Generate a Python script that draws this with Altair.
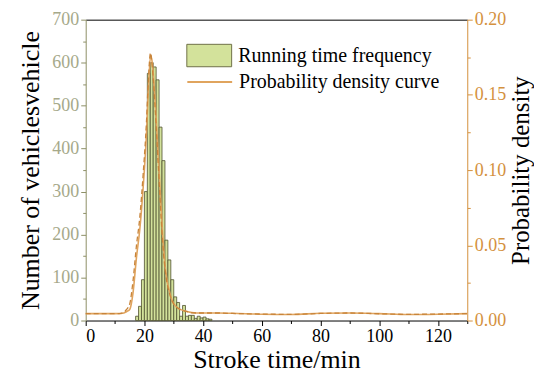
import altair as alt
import pandas as pd

# Histogram (running time frequency), bin width 1 min
bin_start = [17, 18, 19, 20, 21, 22, 23, 24, 25, 26, 27, 28, 29, 30, 31, 32, 33, 34, 35, 36, 37, 38, 39, 40, 41, 42]
counts = [10, 33, 95, 300, 575, 600, 590, 560, 450, 372, 187, 141, 95, 55, 42, 10, 35, 10, 12, 12, 5, 10, 6, 8, 4, 3]

# Probability density curve (solid)
dens_x = [0, 5, 10, 12, 13, 14, 15, 16.1, 17.3, 18.4, 19.6, 20.7, 21.3, 22.1, 22.7, 23.5, 24.3, 25.3, 26.2, 27.3, 28.7,
          30.9, 34.4, 37.8, 45, 50, 60, 70, 80, 90, 100, 110, 120, 130]
dens_y = [0.0046, 0.0046, 0.0046, 0.0047, 0.0050, 0.0060, 0.0073, 0.018, 0.042, 0.060, 0.089, 0.124, 0.151, 0.176, 0.171,
          0.151, 0.124, 0.089, 0.058, 0.032, 0.018, 0.009, 0.006, 0.005, 0.0050, 0.0048, 0.0042, 0.0040, 0.0048, 0.0050,
          0.0046, 0.0040, 0.0042, 0.0046]
# Dashed companion curve
dash_y = [0.0046, 0.0046, 0.0046, 0.0048, 0.0055, 0.0075, 0.011, 0.026, 0.050, 0.068, 0.098, 0.132, 0.158, 0.178, 0.168,
          0.146, 0.118, 0.082, 0.052, 0.030, 0.017, 0.009, 0.006, 0.005, 0.0050, 0.0047, 0.0043, 0.0041, 0.0047, 0.0050,
          0.0045, 0.0041, 0.0043, 0.0046]

bars_df = pd.DataFrame({"start": bin_start, "end": [b + 1 for b in bin_start], "count": counts,
                        "zero": [0] * len(bin_start), "series": "Running time frequency"})
line_df = pd.DataFrame({"t": dens_x, "d": dens_y, "series": "Probability density curve"})
dash_df = pd.DataFrame({"t": dens_x, "d": dash_y})

FONT = "Liberation Serif"
OLIVE_LBL = "#a6a98a"
OLIVE_AX = "#8e9066"
ORANGE = "#d4913e"

xscale = alt.Scale(domain=[0, 130], nice=False, zero=False)

bars = alt.Chart(bars_df).mark_rect(stroke="#4f5030", strokeWidth=0.8).encode(
    x=alt.X("start:Q", scale=xscale,
            axis=alt.Axis(orient="bottom", values=list(range(0, 131, 10)), title="Stroke time/min",
                          labelExpr="datum.value % 20 === 0 ? datum.label : ''",
                          tickSize={"condition": {"test": "datum.value % 20 === 0", "value": 5}, "value": 3},
                          grid=False, domainColor="black", tickColor="black", labelColor="black",
                          labelFontSize=18, titleFontSize=26, labelPadding=2, titlePadding=1,
                          labelFont=FONT, titleFont=FONT, titleFontWeight="normal", titleColor="black")),
    x2="end:Q",
    y=alt.Y("count:Q", scale=alt.Scale(domain=[0, 700], nice=False),
            axis=alt.Axis(orient="left", values=list(range(0, 701, 50)), title="Number of vehiclesvehicle",
                          labelExpr="datum.value % 100 === 0 ? datum.label : ''",
                          tickSize={"condition": {"test": "datum.value % 100 === 0", "value": 5}, "value": 3},
                          grid=False, domainColor=OLIVE_AX, tickColor=OLIVE_AX, labelColor=OLIVE_LBL,
                          labelFontSize=18, titleFontSize=26, labelPadding=2, titlePadding=8,
                          labelFont=FONT, titleFont=FONT, titleFontWeight="normal", titleColor="black")),
    y2="zero:Q",
    fill=alt.Fill("series:N", scale=alt.Scale(range=["#d3e29b"]),
                  legend=alt.Legend(title=None, orient="none", legendX=101, legendY=13,
                                    symbolType="M-1,-0.5H1V0.5H-1Z", symbolSize=2025,
                                    symbolStrokeColor="#6f7048", symbolStrokeWidth=1, symbolOpacity=1,
                                    labelFont=FONT, labelFontSize=20, labelColor="black", labelLimit=400,
                                    labelOffset=6, padding=0)),
)

line = alt.Chart(line_df).mark_line(strokeWidth=1.6, interpolate="monotone").encode(
    x=alt.X("t:Q", scale=xscale,
            axis=alt.Axis(orient="top", title=None, labels=False, ticks=False, grid=False, domainColor="black")),
    y=alt.Y("d:Q", scale=alt.Scale(domain=[0, 0.2], nice=False),
            axis=alt.Axis(orient="right", values=[i * 0.025 for i in range(9)], title="Probability density",
                          format=".2f",
                          labelExpr="round(datum.value * 1000) % 50 === 0 ? datum.label : ''",
                          tickSize={"condition": {"test": "round(datum.value * 1000) % 50 === 0", "value": 5},
                                    "value": 3},
                          grid=False, domainColor=ORANGE, tickColor=ORANGE, labelColor=ORANGE,
                          labelFontSize=18, titleFontSize=25, labelPadding=2, titlePadding=3,
                          titleAngle=270, titleBaseline="top",
                          labelFont=FONT, titleFont=FONT, titleFontWeight="normal", titleColor="black")),
    stroke=alt.Stroke("series:N", scale=alt.Scale(range=["#e0a45e"]),
                      legend=alt.Legend(title=None, orient="none", legendX=101, legendY=39,
                                        symbolType="stroke", symbolSize=2025, symbolStrokeWidth=2,
                                        labelFont=FONT, labelFontSize=20, labelColor="black", labelLimit=400,
                                        labelOffset=6, padding=0)),
)

dashed = alt.Chart(dash_df).mark_line(strokeWidth=1.3, interpolate="monotone", strokeDash=[5, 3],
                                      color="#c8843a").encode(
    x=alt.X("t:Q", scale=xscale, axis=None),
    y=alt.Y("d:Q", scale=alt.Scale(domain=[0, 0.2], nice=False), axis=None),
)

chart = alt.layer(bars, line, dashed).resolve_scale(
    y="independent", fill="independent", stroke="independent"
).resolve_axis(
    x="independent", y="independent"
).properties(
    width=383, height=302,
    padding={"left": 78, "top": 11, "right": 67, "bottom": 60},
    autosize=alt.AutoSizeParams(type="none"),
).configure(font=FONT).configure_view(stroke=None)

chart.save("out.html", embed_options={"renderer": "svg", "actions": False})
